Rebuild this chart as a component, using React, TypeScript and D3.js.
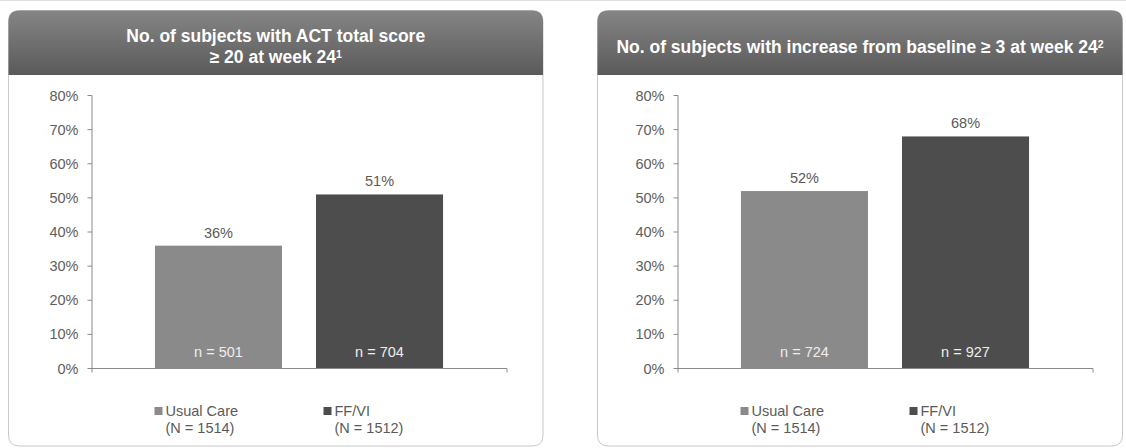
import React from "react";
import * as d3 from "d3";

// Treatment groups and their population sizes
const groups = ["Usual Care", "FF/VI"];
const groupTotals = ["(N = 1514)", "(N = 1512)"];

// Panel 1: ACT total score >= 20 at week 24
const actPercent = [36, 51];
const actCounts = [501, 704];

// Panel 2: increase from baseline >= 3 at week 24
const increasePercent = [52, 68];
const increaseCounts = [724, 927];

const yTicks = [0, 10, 20, 30, 40, 50, 60, 70, 80];

const groupColors = ["#8a8a8a", "#4d4d4d"];

const W = 1126;
const H = 448;
const FONT = "'Liberation Sans', Arial, Helvetica, sans-serif";

type PanelProps = {
  id: string;
  x: number;
  width: number;
  plotLeft: number;
  titleLines: { text: string; sup: string }[];
  titleY: number[];
  percents: number[];
  counts: number[];
};

function Panel({ id, x, width, plotLeft, titleLines, titleY, percents, counts }: PanelProps) {
  const top = 10.5;
  const bottom = 446;
  const headerBottom = 75;
  const r = 11;
  const plotWidth = 415;

  const xScale = d3
    .scaleBand<string>()
    .domain(groups)
    .range([plotLeft, plotLeft + plotWidth])
    .paddingInner(0.211)
    .paddingOuter(0.394);
  const yScale = d3.scaleLinear().domain([0, 80]).range([368.5, 95.5]);
  const y0 = yScale(0);

  const x1 = x + width;
  const outline = `M${x},${bottom - r} L${x},${top + r} Q${x},${top} ${x + r},${top} L${x1 - r},${top} Q${x1},${top} ${x1},${top + r} L${x1},${bottom - r} Q${x1},${bottom} ${x1 - r},${bottom} L${x + r},${bottom} Q${x},${bottom} ${x},${bottom - r} Z`;
  const header = `M${x},${headerBottom} L${x},${top + r} Q${x},${top} ${x + r},${top} L${x1 - r},${top} Q${x1},${top} ${x1},${top + r} L${x1},${headerBottom} Z`;
  const cx = x + width / 2;

  const legendOffsets = [63, 232];

  return (
    <g>
      <defs>
        <linearGradient id={`hdr-${id}`} x1="0" y1="0" x2="0" y2="1">
          <stop offset="0" stopColor="#858585" />
          <stop offset="1" stopColor="#5a5a5a" />
        </linearGradient>
      </defs>
      <path d={outline} fill="#fff" stroke="#c9c9c9" strokeWidth={1} />
      <path d={header} fill={`url(#hdr-${id})`} />
      {titleLines.map((t, i) => (
        <text
          key={i}
          x={cx}
          y={titleY[i]}
          textAnchor="middle"
          fill="#fff"
          fontFamily={FONT}
          fontWeight="bold"
          fontSize={17.5}
        >
          {t.text}
          {t.sup && (
            <tspan fontSize={10.5} dy={-5.5}>
              {t.sup}
            </tspan>
          )}
        </text>
      ))}

      {/* y axis */}
      <line x1={plotLeft + 0.5} x2={plotLeft + 0.5} y1={yScale(80)} y2={y0} stroke="#8a8a8a" />
      {yTicks.map((t) => (
        <g key={t}>
          <line x1={plotLeft - 4} x2={plotLeft + 0.5} y1={yScale(t)} y2={yScale(t)} stroke="#8a8a8a" />
          <text
            x={plotLeft - 13}
            y={yScale(t) + 5}
            textAnchor="end"
            fill="#5e5e5e"
            fontFamily={FONT}
            fontSize={14.5}
          >
            {t}%
          </text>
        </g>
      ))}

      {/* bars */}
      {groups.map((g, i) => {
        const bx = xScale(g)!;
        const bw = xScale.bandwidth();
        return (
          <g key={g}>
            <rect x={bx} y={yScale(percents[i])} width={bw} height={y0 - yScale(percents[i])} fill={groupColors[i]} />
            <text
              x={bx + bw / 2}
              y={yScale(percents[i]) - 8}
              textAnchor="middle"
              fill="#5a5a5a"
              fontFamily={FONT}
              fontSize={14.5}
            >
              {percents[i]}%
            </text>
            <text
              x={bx + bw / 2}
              y={y0 - 12}
              textAnchor="middle"
              fill="#eee"
              fontFamily={FONT}
              fontSize={14.5}
            >
              n = {counts[i]}
            </text>
          </g>
        );
      })}

      {/* x axis */}
      <line x1={plotLeft} x2={plotLeft + plotWidth + 0.5} y1={y0} y2={y0} stroke="#8a8a8a" />
      <line x1={plotLeft + plotWidth + 0.5} x2={plotLeft + plotWidth + 0.5} y1={y0} y2={y0 + 4} stroke="#8a8a8a" />
      <line x1={plotLeft + 0.5} x2={plotLeft + 0.5} y1={y0} y2={y0 + 4} stroke="#8a8a8a" />

      {/* legend */}
      {groups.map((g, i) => {
        const lx = plotLeft + legendOffsets[i];
        return (
          <g key={g}>
            <rect x={lx} y={407} width={8} height={8} fill={groupColors[i]} />
            <text x={lx + 11} y={416} fill="#5a5a5a" fontFamily={FONT} fontSize={14.5}>
              {g}
            </text>
            <text x={lx + 11} y={433} fill="#5a5a5a" fontFamily={FONT} fontSize={14.5}>
              {groupTotals[i]}
            </text>
          </g>
        );
      })}
    </g>
  );
}

export default function App() {
  return (
    <svg
      width={W}
      height={H}
      style={{ position: "absolute", left: 0, top: 0, background: "#fff" }}
    >
      <rect x={0} y={0} width={W} height={H} fill="#fff" />
      <line x1={0} x2={W} y1={0.5} y2={0.5} stroke="#dedede" />
      <Panel
        id="act"
        x={8.5}
        width={534.5}
        plotLeft={91.5}
        titleLines={[
          { text: "No. of subjects with ACT total score", sup: "" },
          { text: "≥ 20 at week 24", sup: "1" },
        ]}
        titleY={[42, 63]}
        percents={actPercent}
        counts={actCounts}
      />
      <Panel
        id="inc"
        x={597.5}
        width={525}
        plotLeft={677.5}
        titleLines={[{ text: "No. of subjects with increase from baseline ≥ 3 at week 24", sup: "2" }]}
        titleY={[53]}
        percents={increasePercent}
        counts={increaseCounts}
      />
    </svg>
  );
}
